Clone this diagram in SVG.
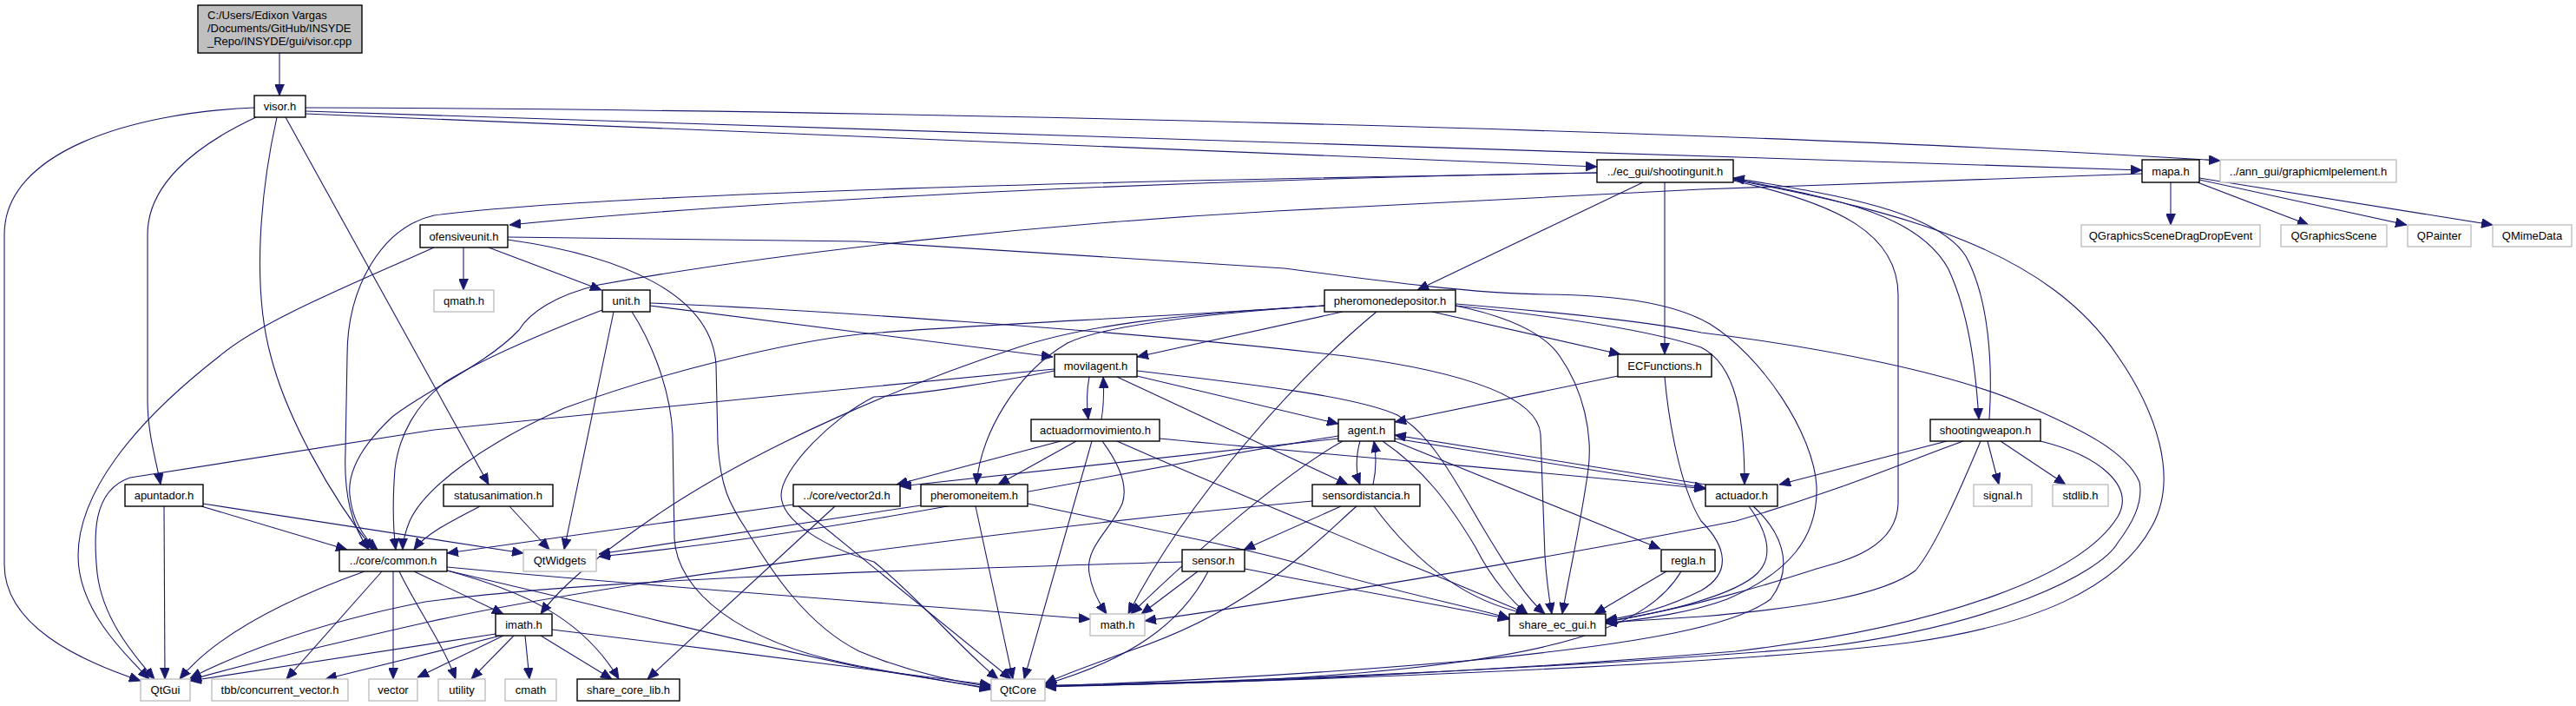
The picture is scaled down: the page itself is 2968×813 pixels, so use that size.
<svg xmlns="http://www.w3.org/2000/svg" width="2968" height="813" viewBox="0 0 2968 813">
<defs>
<style>
.e{fill:none;stroke:#191970;stroke-width:1.1;marker-end:url(#ah)}
.n rect{fill:#fff;stroke:#000;stroke-width:1.4}
.g rect{fill:#fff;stroke:#bfbfbf;stroke-width:1.4}
text{font-family:"Liberation Sans",Arial,sans-serif;font-size:13px;fill:#000}
.c{text-anchor:middle}
</style>
<marker id="ah" viewBox="0 0 13 11" markerWidth="13" markerHeight="11" refX="13" refY="5.5" orient="auto" markerUnits="userSpaceOnUse">
<path d="M0,0 L13,5.5 L0,11 z" fill="#191970" stroke="#191970" stroke-width="0.8"/>
</marker>
</defs>
<rect width="2968" height="813" fill="#fff"/>
<g id="edges">
<path class="e" d="M322,61 L322,110"/>
<path class="e" d="M293,124 C150,130 5,175 5,270 L5,650 C5,720 90,760 162,784"/>
<path class="e" d="M295,135 C220,170 170,215 170,270 L170,460 C170,500 180,530 185,558"/>
<path class="e" d="M319,135 C300,220 290,330 312,410 C330,480 380,570 430,633"/>
<path class="e" d="M329,135 L563,558"/>
<path class="e" d="M352,131 L1840,192"/>
<path class="e" d="M352,128 L2468,196"/>
<path class="e" d="M352,124 C1000,126 2000,150 2558,185"/>
<path class="e" d="M1840,199 C1400,206 900,228 587,259"/>
<path class="e" d="M1840,199 C1300,208 700,222 500,248 C440,262 400,330 400,410 L398,520 C396,570 405,605 425,633"/>
<path class="e" d="M1893,210 L1633,334"/>
<path class="e" d="M1918,210 L1918,408"/>
<path class="e" d="M1997,206 C2110,228 2210,245 2245,310 C2268,360 2276,420 2280,483"/>
<path class="e" d="M2292,483 C2296,420 2292,345 2265,295 C2230,240 2100,222 1997,205"/>
<path class="e" d="M1997,208 C2120,235 2187,270 2187,340 L2187,580 C2185,630 2130,645 2093,655 C2040,672 1950,700 1850,716"/>
<path class="e" d="M1997,207 C2200,245 2360,290 2440,410 C2485,475 2510,550 2480,605 C2440,680 2340,720 2200,740 C2000,765 1500,785 1204,790"/>
<path class="e" d="M2501,210 L2501,259"/>
<path class="e" d="M2532,210 L2660,259"/>
<path class="e" d="M2534,207 L2773,259"/>
<path class="e" d="M2534,205 L2872,259"/>
<path class="e" d="M2468,200 L1960,218 L1470,243 C1200,258 900,290 690,328 C640,340 610,360 598,380 C560,420 490,450 452,480 C420,510 400,540 403,570 C406,600 420,620 435,633"/>
<path class="e" d="M534,285 L534,334"/>
<path class="e" d="M563,285 L693,334"/>
<path class="e" d="M500,285 C400,330 300,370 253,410 C150,490 90,570 90,640 C90,700 140,750 172,782"/>
<path class="e" d="M585,276 C720,295 820,340 825,420 L827,510 C830,560 840,580 860,610 C890,660 930,720 990,750 C1050,775 1100,785 1142,791"/>
<path class="e" d="M585,273 L990,278 L1480,309 C1600,325 1700,338 1780,339 C1870,340 1930,350 1970,373 C2030,410 2090,500 2093,560 C2095,620 2060,660 1990,690 C1950,705 1900,712 1850,718"/>
<path class="e" d="M694,357 C640,378 560,410 513,440 C480,465 460,500 455,540 C452,580 453,610 456,633"/>
<path class="e" d="M707,359 L650,633"/>
<path class="e" d="M728,359 C745,385 772,440 775,500 L777,620 C780,680 850,740 990,767 C1060,780 1110,787 1142,793"/>
<path class="e" d="M749,352 L1213,411"/>
<path class="e" d="M749,349 C900,355 1300,380 1550,410 C1700,430 1772,460 1775,500 L1780,640 C1782,670 1785,690 1788,707"/>
<path class="e" d="M1547,359 L1310,411"/>
<path class="e" d="M1526,352 C1400,360 1270,375 1230,395 C1170,430 1130,500 1125,558"/>
<path class="e" d="M1526,352 C1350,362 1250,375 1173,400 C1050,440 880,510 757,593 C700,632 650,670 623,707"/>
<path class="e" d="M1526,352 C1300,367 1100,375 990,385 C900,395 760,430 650,470 C560,510 490,560 472,600 C466,615 464,625 464,633"/>
<path class="e" d="M1650,359 L1867,408"/>
<path class="e" d="M1677,352 C1800,365 1900,380 1960,400 C2000,420 2010,480 2010,558"/>
<path class="e" d="M1586,359 C1500,430 1370,570 1300,707"/>
<path class="e" d="M1677,352 C1740,365 1780,385 1797,410 C1825,450 1835,500 1830,540 C1822,600 1808,660 1800,707"/>
<path class="e" d="M1677,350 C1800,360 1900,370 1960,383 C2100,400 2250,430 2330,465 C2400,495 2450,520 2465,555 C2470,580 2455,605 2440,625 C2420,660 2300,720 2100,745 C1800,770 1400,787 1204,789"/>
<path class="e" d="M1255,434 C1252,450 1252,468 1254,483"/>
<path class="e" d="M1269,483 C1272,466 1272,450 1271,434"/>
<path class="e" d="M1215,425 C1000,445 700,475 500,495 L150,550 C105,565 108,620 112,660 C118,710 150,750 178,782"/>
<path class="e" d="M1310,433 L1542,488"/>
<path class="e" d="M1287,434 L1553,558"/>
<path class="e" d="M1310,427 C1420,440 1560,455 1610,478 C1650,500 1680,560 1710,610 C1740,660 1760,690 1780,707"/>
<path class="e" d="M1215,427 C1150,440 1050,455 1007,457 C960,480 900,540 900,570 C900,600 950,630 1007,647 C1060,690 1110,750 1150,782"/>
<path class="e" d="M1222,508 L1033,558"/>
<path class="e" d="M1240,508 L1150,558"/>
<path class="e" d="M1258,508 L1180,782"/>
<path class="e" d="M1270,508 C1290,535 1300,560 1293,580 C1280,610 1250,630 1255,660 C1258,680 1268,697 1275,707"/>
<path class="e" d="M1336,505 C1600,530 1800,545 1965,563"/>
<path class="e" d="M1287,508 C1450,580 1650,660 1760,707"/>
<path class="e" d="M1607,505 L1965,562"/>
<path class="e" d="M1965,558 L1607,501"/>
<path class="e" d="M1542,505 L1037,560"/>
<path class="e" d="M1567,508 C1562,525 1562,545 1567,558"/>
<path class="e" d="M1582,558 C1586,540 1586,525 1583,508"/>
<path class="e" d="M1607,508 L1913,632"/>
<path class="e" d="M1593,508 C1640,540 1670,580 1700,630 C1720,670 1745,695 1760,707"/>
<path class="e" d="M1547,508 C1480,545 1380,633 1303,707"/>
<path class="e" d="M1542,502 C1300,540 1000,610 690,641"/>
<path class="e" d="M1864,433 L1607,486"/>
<path class="e" d="M1918,434 C1922,480 1935,560 1960,600 C1990,630 1995,660 1960,680 C1920,700 1880,710 1850,714"/>
<path class="e" d="M1545,583 L1433,633"/>
<path class="e" d="M1512,577 C1200,605 700,670 490,717 C380,742 280,765 219,783"/>
<path class="e" d="M1563,583 C1520,620 1450,700 1300,750 C1260,765 1230,775 1204,787"/>
<path class="e" d="M1583,583 C1640,660 1700,695 1760,707"/>
<path class="e" d="M1362,647 C1100,655 700,665 490,693 C350,720 260,760 219,781"/>
<path class="e" d="M1380,658 L1315,707"/>
<path class="e" d="M1392,658 C1360,720 1300,760 1204,788"/>
<path class="e" d="M1434,655 C1560,680 1680,700 1739,713"/>
<path class="e" d="M1920,658 L1837,707"/>
<path class="e" d="M1937,658 C1900,720 1800,760 1500,780 C1400,786 1280,789 1204,791"/>
<path class="e" d="M2015,583 C2035,610 2045,640 2025,660 C2000,685 1920,705 1850,716"/>
<path class="e" d="M2020,583 C2050,610 2070,650 2040,690 C2000,720 1900,740 1700,760 C1500,778 1300,787 1204,790"/>
<path class="e" d="M2243,508 L2050,558"/>
<path class="e" d="M2262,508 C2200,530 2120,565 2000,600 C1800,640 1500,690 1319,715"/>
<path class="e" d="M2290,508 L2303,558"/>
<path class="e" d="M2305,508 L2380,558"/>
<path class="e" d="M2282,508 C2260,560 2230,630 2207,657 C2170,685 2080,700 1960,710 L1850,717"/>
<path class="e" d="M2351,508 C2420,525 2460,560 2440,595 C2400,660 2250,720 2000,750 C1700,775 1400,788 1204,790"/>
<path class="e" d="M189,583 L190,782"/>
<path class="e" d="M232,583 L400,633"/>
<path class="e" d="M234,580 L603,637"/>
<path class="e" d="M553,583 C520,600 490,615 477,633"/>
<path class="e" d="M587,583 L633,633"/>
<path class="e" d="M914,581 L515,637"/>
<path class="e" d="M962,583 L746,782"/>
<path class="e" d="M920,583 L1165,782"/>
<path class="e" d="M1061,582 L690,638"/>
<path class="e" d="M1124,583 L1167,782"/>
<path class="e" d="M1184,580 C1350,615 1450,635 1500,650 C1600,680 1700,700 1739,712"/>
<path class="e" d="M420,658 C330,690 250,730 207,782"/>
<path class="e" d="M440,658 L330,782"/>
<path class="e" d="M453,658 L453,782"/>
<path class="e" d="M460,658 C480,700 510,740 525,782"/>
<path class="e" d="M477,658 L580,707"/>
<path class="e" d="M515,657 C600,680 670,710 713,782"/>
<path class="e" d="M515,653 C800,680 1100,700 1256,713"/>
<path class="e" d="M515,657 C700,700 900,750 990,768 C1060,780 1110,787 1142,794"/>
<path class="e" d="M571,730 L219,784"/>
<path class="e" d="M577,732 L375,782"/>
<path class="e" d="M580,732 L481,780"/>
<path class="e" d="M592,732 L543,782"/>
<path class="e" d="M605,732 L610,782"/>
<path class="e" d="M623,732 L705,782"/>
<path class="e" d="M636,725 C800,745 1000,770 1142,789"/>
</g>
<g id="node-visor-cpp"><rect x="228" y="6" width="189" height="55" fill="#bfbfbf" stroke="#000" stroke-width="1.4"/><text x="239" y="22">C:/Users/Edixon Vargas</text><text x="239" y="37">/Documents/GitHub/INSYDE</text><text x="239" y="52">_Repo/INSYDE/gui/visor.cpp</text></g>
<g id="node-visor-h" class="n"><rect x="293" y="110" width="59" height="25"/><text class="c" x="322.5" y="127">visor.h</text></g>
<g id="node-shootingunit" class="n"><rect x="1840" y="184" width="157" height="26"/><text class="c" x="1918.5" y="201.5">../ec_gui/shootingunit.h</text></g>
<g id="node-mapa" class="n"><rect x="2468" y="184" width="66" height="26"/><text class="c" x="2501" y="201.5">mapa.h</text></g>
<g id="node-graphicml" class="g"><rect x="2558" y="184" width="203" height="26"/><text class="c" x="2659.5" y="201.5">../ann_gui/graphicmlpelement.h</text></g>
<g id="node-ofensiveunit" class="n"><rect x="484" y="259" width="101" height="26"/><text class="c" x="534.5" y="276.5">ofensiveunit.h</text></g>
<g id="node-qgsdde" class="g"><rect x="2398" y="259" width="206" height="25"/><text class="c" x="2501" y="276">QGraphicsSceneDragDropEvent</text></g>
<g id="node-qgs" class="g"><rect x="2628" y="259" width="122" height="25"/><text class="c" x="2689" y="276">QGraphicsScene</text></g>
<g id="node-qpainter" class="g"><rect x="2774" y="259" width="73" height="25"/><text class="c" x="2810.5" y="276">QPainter</text></g>
<g id="node-qmimedata" class="g"><rect x="2872" y="259" width="91" height="25"/><text class="c" x="2917.5" y="276">QMimeData</text></g>
<g id="node-qmath" class="g"><rect x="500" y="334" width="69" height="25"/><text class="c" x="534.5" y="351">qmath.h</text></g>
<g id="node-unit" class="n"><rect x="694" y="334" width="55" height="25"/><text class="c" x="721.5" y="351">unit.h</text></g>
<g id="node-pheromonedepositor" class="n"><rect x="1526" y="334" width="151" height="25"/><text class="c" x="1601.5" y="351">pheromonedepositor.h</text></g>
<g id="node-movilagent" class="n"><rect x="1215" y="408" width="95" height="26"/><text class="c" x="1262.5" y="425.5">movilagent.h</text></g>
<g id="node-ecfunctions" class="n"><rect x="1864" y="408" width="108" height="26"/><text class="c" x="1918" y="425.5">ECFunctions.h</text></g>
<g id="node-actuadormovimiento" class="n"><rect x="1188" y="483" width="148" height="25"/><text class="c" x="1262" y="500">actuadormovimiento.h</text></g>
<g id="node-agent" class="n"><rect x="1542" y="483" width="65" height="25"/><text class="c" x="1574.5" y="500">agent.h</text></g>
<g id="node-shootingweapon" class="n"><rect x="2224" y="483" width="127" height="25"/><text class="c" x="2287.5" y="500">shootingweapon.h</text></g>
<g id="node-apuntador" class="n"><rect x="144" y="558" width="90" height="25"/><text class="c" x="189" y="575">apuntador.h</text></g>
<g id="node-statusanimation" class="n"><rect x="511" y="558" width="126" height="25"/><text class="c" x="574" y="575">statusanimation.h</text></g>
<g id="node-vector2d" class="n"><rect x="914" y="558" width="123" height="25"/><text class="c" x="975.5" y="575">../core/vector2d.h</text></g>
<g id="node-pheromoneitem" class="n"><rect x="1061" y="558" width="123" height="25"/><text class="c" x="1122.5" y="575">pheromoneitem.h</text></g>
<g id="node-sensordistancia" class="n"><rect x="1512" y="558" width="124" height="25"/><text class="c" x="1574" y="575">sensordistancia.h</text></g>
<g id="node-actuador" class="n"><rect x="1965" y="558" width="83" height="25"/><text class="c" x="2006.5" y="575">actuador.h</text></g>
<g id="node-signal" class="g"><rect x="2274" y="558" width="67" height="25"/><text class="c" x="2307.5" y="575">signal.h</text></g>
<g id="node-stdlib" class="g"><rect x="2365" y="558" width="64" height="25"/><text class="c" x="2397" y="575">stdlib.h</text></g>
<g id="node-common" class="n"><rect x="391" y="633" width="124" height="25"/><text class="c" x="453" y="650">../core/common.h</text></g>
<g id="node-qtwidgets" class="g"><rect x="603" y="633" width="84" height="25"/><text class="c" x="645" y="650">QtWidgets</text></g>
<g id="node-sensor" class="n"><rect x="1362" y="633" width="72" height="25"/><text class="c" x="1398" y="650">sensor.h</text></g>
<g id="node-regla" class="n"><rect x="1914" y="633" width="62" height="25"/><text class="c" x="1945" y="650">regla.h</text></g>
<g id="node-imath" class="n"><rect x="571" y="707" width="65" height="25"/><text class="c" x="603.5" y="724">imath.h</text></g>
<g id="node-math" class="g"><rect x="1256" y="707" width="63" height="25"/><text class="c" x="1287.5" y="724">math.h</text></g>
<g id="node-share-ec-gui" class="n"><rect x="1739" y="707" width="111" height="25"/><text class="c" x="1794.5" y="724">share_ec_gui.h</text></g>
<g id="node-qtgui" class="g"><rect x="162" y="782" width="57" height="25"/><text class="c" x="190.5" y="799">QtGui</text></g>
<g id="node-tbb" class="g"><rect x="244" y="782" width="157" height="25"/><text class="c" x="322.5" y="799">tbb/concurrent_vector.h</text></g>
<g id="node-vector" class="g"><rect x="425" y="782" width="56" height="25"/><text class="c" x="453" y="799">vector</text></g>
<g id="node-utility" class="g"><rect x="505" y="782" width="54" height="25"/><text class="c" x="532" y="799">utility</text></g>
<g id="node-cmath" class="g"><rect x="582" y="782" width="59" height="25"/><text class="c" x="611.5" y="799">cmath</text></g>
<g id="node-share-core-lib" class="n"><rect x="665" y="782" width="118" height="25"/><text class="c" x="724" y="799">share_core_lib.h</text></g>
<g id="node-qtcore" class="g"><rect x="1142" y="782" width="62" height="25"/><text class="c" x="1173" y="799">QtCore</text></g>
</svg>
